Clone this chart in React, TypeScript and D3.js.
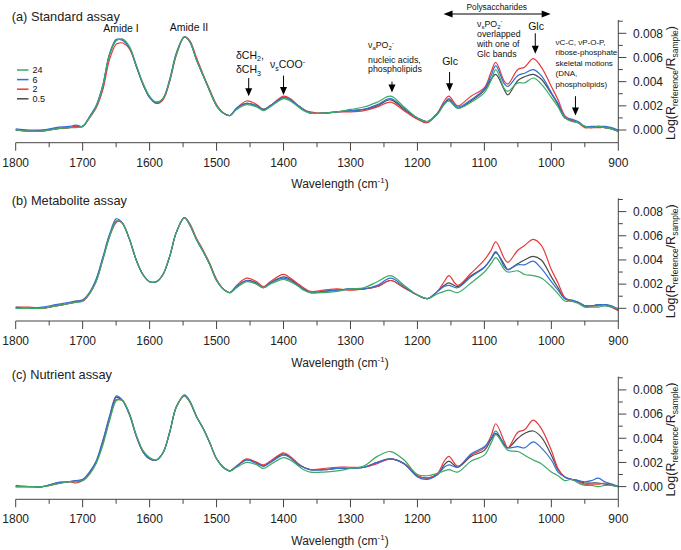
import React from 'react';
import * as d3 from 'd3';

// Wavenumbers (cm-1) shared by every spectrum
const WAVENUMBERS = [
  1800, 1780, 1760, 1740, 1720, 1710, 1700, 1690, 1680, 1670,
  1660, 1650, 1645, 1640, 1630, 1620, 1610, 1600, 1590, 1580,
  1570, 1560, 1548, 1540, 1530, 1520, 1510, 1500, 1490, 1480,
  1470, 1455, 1440, 1430, 1420, 1400, 1390, 1380, 1370, 1360,
  1340, 1320, 1300, 1280, 1260, 1240, 1220, 1200, 1185, 1170,
  1160, 1153, 1140, 1120, 1100, 1090, 1083, 1070, 1065, 1050,
  1040, 1027, 1015, 1000, 990, 980, 970, 960, 950, 940,
  930, 920, 910, 900,
];

// values in units of 1e-4 Log(Rref/Rsample)
const UNIT = 1e-4;

// (a) Standard assay
const A_24 = [0,-1,-1,1,2,2,3,10,19,36, 62,74,75,75,69,54,39,28,23,26, 41,63,77,73,58,45,32,20,14,12, 17,21,19,16,19,26,24,20,16,14, 14,15,17,19,23,28,19,10,7,13, 21,24,18,23,31,41,50,34,32,39, 39,43,38,27,19,10,7,6,3,2, 3,2,1,-1];
const A_6 = [1,0,0,2,3,4,3,11,20,37, 63,75,75,74,68,53,38,27,22,26, 42,64,77,73,58,45,32,20,14,12, 18,22,20,17,20,27,25,21,17,14, 14,15,16,17,21,26,18,10,7,14, 22,26,19,25,34,45,53,38,36,45, 47,50,45,31,22,11,9,7,3,3, 3,3,2,0];
const A_2 = [0,-1,0,1,2,3,3,10,18,33, 58,71,72,72,67,53,38,27,22,25, 40,62,77,74,60,46,33,21,14,12, 18,24,21,17,20,28,26,21,17,15, 14,15,15,16,19,23,16,9,6,14, 24,28,20,28,35,48,56,40,38,50, 52,59,52,36,25,12,8,6,2,2, 2,2,1,-1];
const A_05 = [0,-1,-1,1,2,3,3,10,19,36, 62,74,75,75,68,53,38,27,23,26, 41,63,77,73,58,45,32,20,14,12, 18,22,20,17,20,27,25,21,17,14, 14,15,16,17,20,25,17,10,7,14, 22,25,18,24,33,42,46,33,29,41, 44,46,42,30,21,10,8,6,3,2, 3,2,1,-1];

// (b) Metabolite assay
const B_24 = [0,0,0,2,4,5,6,12,22,40, 59,72,72,70,57,40,28,22,22,28, 43,63,75,69,57,47,36,23,16,13, 17,22,20,17,20,24,22,19,15,13, 13,14,16,17,22,27,19,11,8,12, 14,15,13,21,30,37,42,32,30,31, 28,27,25,18,12,6,6,4,1,1, 1,2,1,0];
const B_6 = [1,0,1,3,5,6,7,13,24,42, 61,74,73,70,57,40,28,22,22,28, 43,63,75,69,57,47,36,23,16,13, 18,23,20,17,21,25,23,19,16,13, 14,15,16,16,19,25,18,11,8,14, 18,19,17,26,34,41,47,34,32,36, 36,39,33,22,15,8,7,5,2,2, 3,3,2,-1];
const B_2 = [1,1,0,2,4,6,6,12,22,40, 59,71,72,70,57,40,28,22,22,28, 43,63,75,70,58,48,37,24,16,13, 19,25,22,18,22,28,25,21,17,14, 15,16,15,16,18,23,17,11,8,14, 22,27,19,29,40,48,55,41,38,48, 52,57,52,32,21,9,6,5,2,2, 2,3,1,-2];
const B_05 = [0,0,0,2,4,5,6,12,23,41, 60,72,72,70,57,40,28,22,22,28, 43,63,75,69,57,47,36,23,16,13, 18,23,21,17,21,26,24,20,16,13, 14,15,16,16,18,23,17,11,8,14, 19,21,18,27,34,41,46,36,32,37, 40,43,40,26,17,8,6,5,2,2, 3,3,1,-1];

// (c) Nutrient assay
const C_24 = [0,0,0,2,4,4,5,10,19,34, 54,71,72,71,60,43,30,24,22,28, 45,66,75,70,58,48,36,23,16,13, 16,20,18,15,18,24,22,18,14,12, 12,13,15,17,25,29,22,10,9,11, 13,14,12,21,26,36,43,33,30,29, 26,22,19,12,9,5,6,3,1,1, 0,1,1,0];
const C_6 = [0,0,0,3,4,5,6,12,21,38, 58,75,74,71,59,42,29,23,22,28, 45,66,76,71,58,48,36,23,16,13, 17,22,19,17,20,26,24,19,16,14, 14,15,15,16,20,23,19,8,6,10, 16,18,16,27,33,40,46,34,32,33, 32,37,32,22,12,8,6,5,4,5, 7,4,2,0];
const C_2 = [1,0,0,2,4,3,5,11,20,36, 56,72,72,71,60,42,29,23,22,28, 45,66,75,70,58,48,36,23,16,13, 17,23,20,18,21,28,25,20,16,14, 15,16,16,16,19,23,19,9,7,11, 21,25,17,26,32,42,52,37,32,45, 47,55,48,30,15,8,6,4,2,2, 2,3,2,0];
const C_05 = [0,0,0,3,4,5,5,11,20,37, 57,74,73,71,60,42,29,23,22,28, 45,66,75,70,58,48,36,23,16,13, 17,22,20,17,20,27,24,19,16,14, 14,15,15,16,20,23,19,9,7,10, 18,21,16,25,30,39,44,35,32,40, 44,46,41,26,14,8,6,5,3,3, 3,2,1,0];

const SERIES_LABELS = ['24', '6', '2', '0.5'];
const SERIES_COLORS = ['#3aaa64', '#2f6fd6', '#e8393c', '#4a4a4a'];
const PANEL_TITLES = ['(a) Standard assay', '(b) Metabolite assay', '(c) Nutrient assay'];
const PANEL_DATA = [
  [A_24, A_6, A_2, A_05],
  [B_24, B_6, B_2, B_05],
  [C_24, C_6, C_2, C_05],
];
const DRAW_ORDER = [3, 2, 1, 0];

const X_MAJOR = [1800, 1700, 1600, 1500, 1400, 1300, 1200, 1100, 1000, 900];
const X_MINOR = [1750, 1650, 1550, 1450, 1350, 1250, 1150, 1050, 950];
const Y_MAJOR = [0, 0.002, 0.004, 0.006, 0.008];
const Y_MINOR = [0.001, 0.003, 0.005, 0.007, 0.009];

// annotations of panel (a): arrows (wavenumber, top value, tip value)
const ARROWS = [
  { w: 1452, top: 0.0043, tip: 0.0028 },
  { w: 1400, top: 0.0045, tip: 0.0029 },
  { w: 1238, top: 0.0040, tip: 0.0031 },
  { w: 1152, top: 0.0048, tip: 0.0032 },
  { w: 1024, top: 0.0080, tip: 0.0063 },
  { w: 964, top: 0.0028, tip: 0.0012 },
];

const FONT = '"Liberation Sans", Arial, Helvetica, sans-serif';
const W = 681;
const H = 550;
const PANEL_STEP = 178.3;
const TITLE_Y = [21, 205, 379];

const x = d3.scaleLinear().domain([1800, 900]).range([15.7, 618.3]);

function Arrow({ px, y1, y2 }: { px: number; y1: number; y2: number }) {
  const hl = 8, hw = 3.5;
  return (
    <g>
      <line x1={px} x2={px} y1={y1} y2={y2 - hl + 1} stroke="#000" strokeWidth={1} />
      <polygon points={`${px - hw},${y2 - hl} ${px + hw},${y2 - hl} ${px},${y2}`} fill="#000" />
    </g>
  );
}

function Panel({ idx }: { idx: number }) {
  const off = idx * PANEL_STEP;
  const yBottom = 142.7 + off;
  const yTop = 20 + off;
  const y = d3.scaleLinear().domain([-0.00105, 0.0091]).range([yBottom, yTop]);
  const line = d3
    .line<number>()
    .x((_, i) => x(WAVENUMBERS[i]))
    .y((v) => y(v * UNIT))
    .curve(d3.curveCatmullRom.alpha(0.5));
  const series = PANEL_DATA[idx];
  const xr = x(900);
  return (
    <g>
      <text x={11.7} y={TITLE_Y[idx]} fontSize={12.8} fill="#222">{PANEL_TITLES[idx]}</text>
      {DRAW_ORDER.map((s) => (
        <path key={s} d={line(series[s]) || ''} fill="none" stroke={SERIES_COLORS[s]} strokeWidth={1.2} />
      ))}
      {/* x axis */}
      <line x1={x(1800)} x2={xr} y1={yBottom} y2={yBottom} stroke="#444" strokeWidth={1} />
      {X_MAJOR.map((t) => (
        <g key={t}>
          <line x1={x(t)} x2={x(t)} y1={yBottom} y2={yBottom + 8} stroke="#444" strokeWidth={1} />
          <text x={x(t)} y={yBottom + 24} fontSize={12} textAnchor="middle" fill="#222">{t}</text>
        </g>
      ))}
      {X_MINOR.map((t) => (
        <line key={t} x1={x(t)} x2={x(t)} y1={yBottom} y2={yBottom + 4.5} stroke="#444" strokeWidth={1} />
      ))}
      <text x={340} y={yBottom + 45.5} fontSize={12} textAnchor="middle" fill="#222">
        Wavelength (cm<tspan fontSize={8} dy={-5}>-1</tspan><tspan dy={5}>)</tspan>
      </text>
      {/* right y axis */}
      <line x1={xr} x2={xr} y1={yTop} y2={yBottom} stroke="#444" strokeWidth={1} />
      {Y_MAJOR.map((t) => (
        <g key={t}>
          <line x1={xr} x2={xr + 8} y1={y(t)} y2={y(t)} stroke="#444" strokeWidth={1} />
          <text x={633} y={y(t) + 4.3} fontSize={12} fill="#222">{t.toFixed(3)}</text>
        </g>
      ))}
      {Y_MINOR.map((t) => (
        <line key={t} x1={xr} x2={xr + 4.5} y1={y(t)} y2={y(t)} stroke="#444" strokeWidth={1} />
      ))}
      <text transform={`translate(675,${83 + off}) rotate(-90)`} fontSize={12.5} textAnchor="middle" fill="#222">
        Log(R<tspan fontSize={8.5} dy={3}>reference</tspan>
        <tspan dy={-3}>/R</tspan>
        <tspan fontSize={8.5} dy={3}>sample</tspan>
        <tspan dy={-3}>)</tspan>
      </text>
      {idx === 0 && <Annotations y={y} />}
    </g>
  );
}

function Annotations({ y }: { y: d3.ScaleLinear<number, number> }) {
  const small = 8.3;
  const mid = 10.5;
  const x1 = x(1161);
  const x2 = x(1001);
  const ay = 14;
  return (
    <g fill="#111">
      {/* legend */}
      {SERIES_LABELS.map((lab, i) => (
        <g key={lab}>
          <line x1={17} x2={28.5} y1={70 + i * 9.6} y2={70 + i * 9.6} stroke={SERIES_COLORS[i]} strokeWidth={1.5} />
          <text x={32.5} y={73.2 + i * 9.6} fontSize={9}>{lab}</text>
        </g>
      ))}
      <text x={121} y={32} fontSize={mid} textAnchor="middle">Amide I</text>
      <text x={189} y={30.5} fontSize={mid} textAnchor="middle">Amide II</text>
      <text x={236} y={58.5} fontSize={mid}>δCH<tspan fontSize={7} dy={2.5}>2</tspan><tspan dy={-2.5}>,</tspan></text>
      <text x={236} y={73} fontSize={mid}>δCH<tspan fontSize={7} dy={2.5}>3</tspan></text>
      <text x={270} y={68} fontSize={mid}>ν<tspan fontSize={7} dy={2.5}>s</tspan><tspan dy={-2.5}>COO</tspan><tspan fontSize={7} dy={-4}>-</tspan></text>
      <text x={368} y={48.3} fontSize={small + 0.5}>ν<tspan fontSize={6} dy={2}>a</tspan><tspan dy={-2}>PO</tspan><tspan fontSize={6} dy={2}>2</tspan><tspan fontSize={6} dy={-5.5}>-</tspan></text>
      <text x={368} y={62.7} fontSize={small + 0.5}>nucleic acids,</text>
      <text x={368} y={71.9} fontSize={small + 0.5}>phospholipids</text>
      <text x={450} y={65} fontSize={mid} textAnchor="middle">Glc</text>
      <text x={496.7} y={9.5} fontSize={small} textAnchor="middle">Polysaccharides</text>
      <line x1={x1 + 8} x2={x2 - 8} y1={ay} y2={ay} stroke="#000" strokeWidth={1} />
      <polygon points={`${x1},${ay} ${x1 + 9},${ay - 3.5} ${x1 + 9},${ay + 3.5}`} fill="#000" />
      <polygon points={`${x2},${ay} ${x2 - 9},${ay - 3.5} ${x2 - 9},${ay + 3.5}`} fill="#000" />
      <text x={477} y={26.7} fontSize={small + 0.5}>ν<tspan fontSize={6} dy={2}>s</tspan><tspan dy={-2}>PO</tspan><tspan fontSize={6} dy={2}>2</tspan><tspan fontSize={6} dy={-5.5}>-</tspan></text>
      <text x={477} y={37.3} fontSize={small + 0.5}>overlapped</text>
      <text x={477} y={47.3} fontSize={small + 0.5}>with one of</text>
      <text x={477} y={57.3} fontSize={small + 0.5}>Glc bands</text>
      <text x={536} y={30} fontSize={mid} textAnchor="middle">Glc</text>
      <text x={555.5} y={45} fontSize={small - 0.3}>νC-C, νP-O-P,</text>
      <text x={555.5} y={55} fontSize={small - 0.3}>ribose-phosphate</text>
      <text x={555.5} y={65.5} fontSize={small - 0.3}>skeletal motions</text>
      <text x={555.5} y={76} fontSize={small - 0.3}>(DNA,</text>
      <text x={555.5} y={86.5} fontSize={small - 0.3}>phospholipids)</text>
      {ARROWS.map((a, i) => (
        <Arrow key={i} px={x(a.w)} y1={y(a.top)} y2={y(a.tip)} />
      ))}
    </g>
  );
}

export default function App() {
  return (
    <svg
      width={W}
      height={H}
      viewBox={`0 0 ${W} ${H}`}
      style={{ position: 'absolute', left: 0, top: 0, background: '#fff', fontFamily: FONT }}
    >
      <rect width={W} height={H} fill="#fff" />
      {[0, 1, 2].map((i) => (
        <Panel key={i} idx={i} />
      ))}
    </svg>
  );
}
